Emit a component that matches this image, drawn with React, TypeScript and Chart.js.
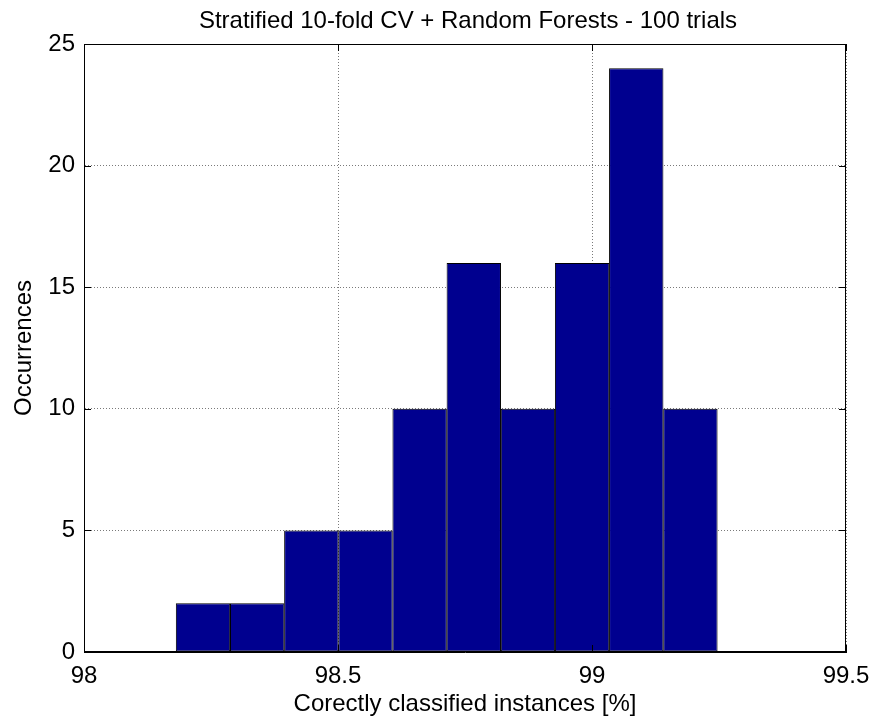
import { useEffect, useRef } from 'react';
import { Chart, registerables } from 'chart.js';

Chart.register(...registerables);

// ---- data ----
const binCenters = [98.2343, 98.3409, 98.4475, 98.5541, 98.6607, 98.7673, 98.8739, 98.9805, 99.0871, 99.1937];
const occurrences = [2, 2, 5, 5, 10, 16, 10, 16, 24, 10];
const xTicks = [98, 98.5, 99, 99.5];
const yTicks = [0, 5, 10, 15, 20, 25];
const titleText = 'Stratified 10-fold CV + Random Forests - 100 trials';
const xLabel = 'Corectly classified instances [%]';
const yLabel = 'Occurrences';

const FONT = '"Liberation Sans", Arial, Helvetica, sans-serif';

const boxPlugin = {
  id: 'matlabBox',
  afterDatasetsDraw(chart: any) {
    const { ctx, chartArea, scales } = chart;
    const { left, right, top, bottom } = chartArea;
    const x = scales.x;
    const y = scales.y;
    ctx.save();
    ctx.strokeStyle = '#000';
    ctx.lineWidth = 1;
    ctx.beginPath();
    const tl = 7;
    xTicks.forEach((v) => {
      const px = Math.round(x.getPixelForValue(v)) + 0.5;
      ctx.moveTo(px, bottom);
      ctx.lineTo(px, bottom - tl);
      ctx.moveTo(px, top);
      ctx.lineTo(px, top + tl);
    });
    yTicks.forEach((v) => {
      const py = Math.round(y.getPixelForValue(v)) + 0.5;
      ctx.moveTo(left, py);
      ctx.lineTo(left + tl, py);
      ctx.moveTo(right, py);
      ctx.lineTo(right - tl, py);
    });
    ctx.stroke();
    ctx.strokeRect(left + 0.5, top + 0.5, right - left - 1, bottom - top - 1);
    ctx.restore();
  },
  afterDraw(chart: any) {
    const { ctx, chartArea } = chart;
    ctx.save();
    ctx.fillStyle = '#000';
    ctx.font = `24px ${FONT}`;
    ctx.textAlign = 'center';
    ctx.textBaseline = 'alphabetic';
    ctx.fillText(titleText, (chartArea.left + chartArea.right) / 2 + 3, 28);
    ctx.restore();
  },
};

export default function App() {
  const canvasRef = useRef<HTMLCanvasElement | null>(null);

  useEffect(() => {
    const canvas = canvasRef.current;
    if (!canvas) return;
    const chart = new Chart(canvas, {
      type: 'bar',
      data: {
        datasets: [
          {
            data: binCenters.map((c, i) => ({ x: c, y: occurrences[i] })),
            backgroundColor: '#00008F',
            borderColor: '#000',
            borderWidth: 1,
            borderSkipped: false,
            barPercentage: 1.004,
            categoryPercentage: 1,
          },
        ],
      },
      options: {
        animation: false,
        responsive: false,
        devicePixelRatio: 1,
        layout: { padding: { top: 44, right: 27, left: 0, bottom: 0 } },
        plugins: {
          legend: { display: false },
          tooltip: { enabled: false },
          title: { display: false },
        },
        scales: {
          x: {
            type: 'linear',
            min: 98,
            max: 99.5,
            offset: false,
            afterBuildTicks: (scale: any) => {
              scale.ticks = xTicks.map((v) => ({ value: v }));
            },
            afterFit: (scale: any) => {
              scale.height = 67;
              scale.paddingLeft = 0;
              scale.paddingRight = 0;
            },
            grid: { offset: false, color: '#7a7a7a', lineWidth: 1, drawTicks: false },
            border: { display: true, color: '#000', width: 1, dash: [1, 2] },
            ticks: {
              padding: 10,
              color: '#000',
              font: { size: 24, family: FONT },
              maxRotation: 0,
              autoSkip: false,
              callback: (v: any) => String(v),
            },
            title: {
              display: true,
              text: xLabel,
              color: '#000',
              font: { size: 24, family: FONT },
              padding: { top: 0, bottom: 0 },
            },
          },
          y: {
            type: 'linear',
            min: 0,
            max: 25,
            afterBuildTicks: (scale: any) => {
              scale.ticks = yTicks.map((v) => ({ value: v }));
            },
            afterFit: (scale: any) => {
              scale.width = 84;
              scale.paddingTop = 0;
              scale.paddingBottom = 0;
            },
            grid: { color: '#7a7a7a', lineWidth: 1, drawTicks: false },
            border: { display: true, color: '#000', width: 1, dash: [1, 2] },
            ticks: {
              padding: 9,
              color: '#000',
              font: { size: 24, family: FONT },
              callback: (v: any) => String(v),
            },
            title: {
              display: true,
              text: yLabel,
              color: '#000',
              font: { size: 24, family: FONT },
              padding: { top: 10, bottom: 0 },
            },
          },
        },
      },
      plugins: [boxPlugin],
    } as any);
    return () => chart.destroy();
  }, []);

  return (
    <div style={{ position: 'fixed', left: 0, top: 0, width: 873, height: 719, background: '#fff' }}>
      <canvas ref={canvasRef} width={873} height={719} style={{ display: 'block' }} />
    </div>
  );
}
